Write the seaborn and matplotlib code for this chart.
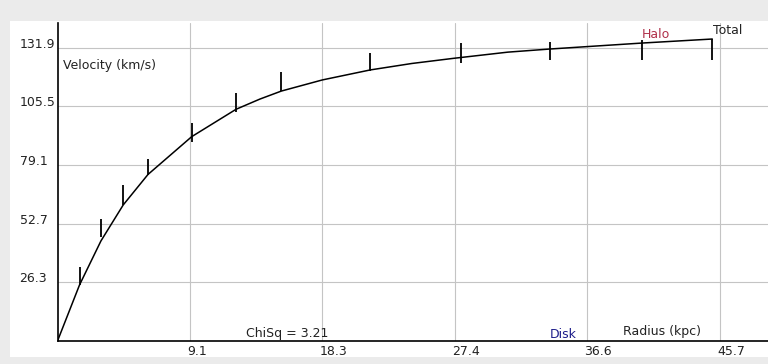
import matplotlib
matplotlib.use("Agg")
import matplotlib.pyplot as plt
import matplotlib.patches as patches
import matplotlib.transforms as mtransforms
import numpy as np
import pandas as pd
import seaborn as sns

# Rotation curve model (total velocity vs radius)
model_radius = [0, 1.52, 3.00, 4.54, 6.25, 9.27, 12.33, 13.98, 15.46, 18.29, 21.60, 24.47, 27.33, 31.1, 34.0, 36.6, 40.4, 45.22]
model_velocity = [0, 25.2, 45.0, 61.2, 74.9, 91.9, 104.2, 108.8, 112.4, 117.4, 121.9, 124.8, 127.1, 129.9, 131.3, 132.4, 134.0, 135.8]

# Observed velocities with their uncertainties
obs_radius = [1.52, 3.00, 4.54, 6.25, 9.27, 12.33, 15.46, 21.60, 27.85, 34.01, 40.37, 45.22]
obs_velocity = [29.2, 50.8, 65.7, 78.4, 93.8, 107.4, 116.8, 125.5, 129.5, 130.5, 130.8, 131.0]
obs_error = [4.2, 4.0, 4.5, 3.6, 4.1, 4.3, 4.3, 4.1, 4.4, 4.1, 4.4, 4.6]

x_ticks = [9.15, 18.3, 27.45, 36.6, 45.75]
x_tick_labels = ["9.1", "18.3", "27.4", "36.6", "45.7"]
y_ticks = [26.38, 52.76, 79.14, 105.52, 131.9]
y_tick_labels = ["26.3", "52.7", "79.1", "105.5", "131.9"]

chisq_text = "ChiSq = 3.21"

W, H = 768, 364
sns.set_theme(style="white")
plt.rcParams["font.family"] = ["DejaVu Sans"]

fig = plt.figure(figsize=(W / 100, H / 100), dpi=100, facecolor="#ebebeb")


def fx(x):
    return x / W


def fy(y):
    return 1 - y / H


# white drawing panel behind the axes
fig.patches.append(patches.Rectangle((fx(10), fy(357)), fx(W - 10), (357 - 21) / H,
                                     transform=fig.transFigure, facecolor="white",
                                     edgecolor="none", zorder=-5))

ax_left, ax_bottom_px, ax_top_px = 57.5, 341, 23
ax = fig.add_axes([fx(ax_left), fy(ax_bottom_px), fx(W - ax_left),
                   (ax_bottom_px - ax_top_px) / H])
ax.patch.set_alpha(0)

x_max = (W - ax_left) / 14.48
y_max = (ax_bottom_px - ax_top_px) / 2.2237
ax.set_xlim(0, x_max)
ax.set_ylim(0, y_max)

ax.set_xticks(x_ticks)
ax.set_xticklabels(x_tick_labels)
ax.set_yticks(y_ticks)
ax.set_yticklabels(y_tick_labels)
ax.grid(True, color="#c4c4c4", linewidth=0.8)
ax.set_axisbelow(True)

ax.tick_params(axis="both", length=0, labelsize=9, colors="#222222")
ax.tick_params(axis="y", pad=27.3)
ax.tick_params(axis="x", pad=3.2)
for lab in ax.get_yticklabels():
    lab.set_horizontalalignment("left")
    lab.set_verticalalignment("baseline")
shift_left = mtransforms.ScaledTranslation(-3 / 100, 0, fig.dpi_scale_trans)
for lab in ax.get_xticklabels():
    lab.set_horizontalalignment("left")
    lab.set_transform(lab.get_transform() + shift_left)

for side in ("top", "right"):
    ax.spines[side].set_visible(False)
for side in ("left", "bottom"):
    ax.spines[side].set_color("black")
    ax.spines[side].set_linewidth(1.2)

model = pd.DataFrame({"radius": model_radius, "velocity": model_velocity})
sns.lineplot(data=model, x="radius", y="velocity", ax=ax, color="black",
             linewidth=1.1, sort=False, zorder=3)

obs_v = np.array(obs_velocity)
obs_e = np.array(obs_error)
ax.vlines(obs_radius, obs_v - obs_e, obs_v + obs_e, color="black",
          linewidth=1.3, zorder=4)

ax.set_xlabel("")
ax.set_ylabel("")

txt = dict(fontsize=9, color="#222222", va="center", ha="left")
fig.text(fx(63), fy(65), "Velocity (km/s)", **txt)
fig.text(fx(246), fy(333), chisq_text, **txt)
fig.text(fx(623), fy(332), "Radius (kpc)", **txt)
fig.text(fx(713), fy(30.5), "Total", **txt)
fig.text(fx(642), fy(34.5), "Halo", fontsize=9, color="#b0304a", va="center", ha="left")
fig.text(fx(550), fy(335), "Disk", fontsize=9, color="#1c1c8a", va="center", ha="left")

fig.savefig("out.png", dpi=100, facecolor=fig.get_facecolor())
